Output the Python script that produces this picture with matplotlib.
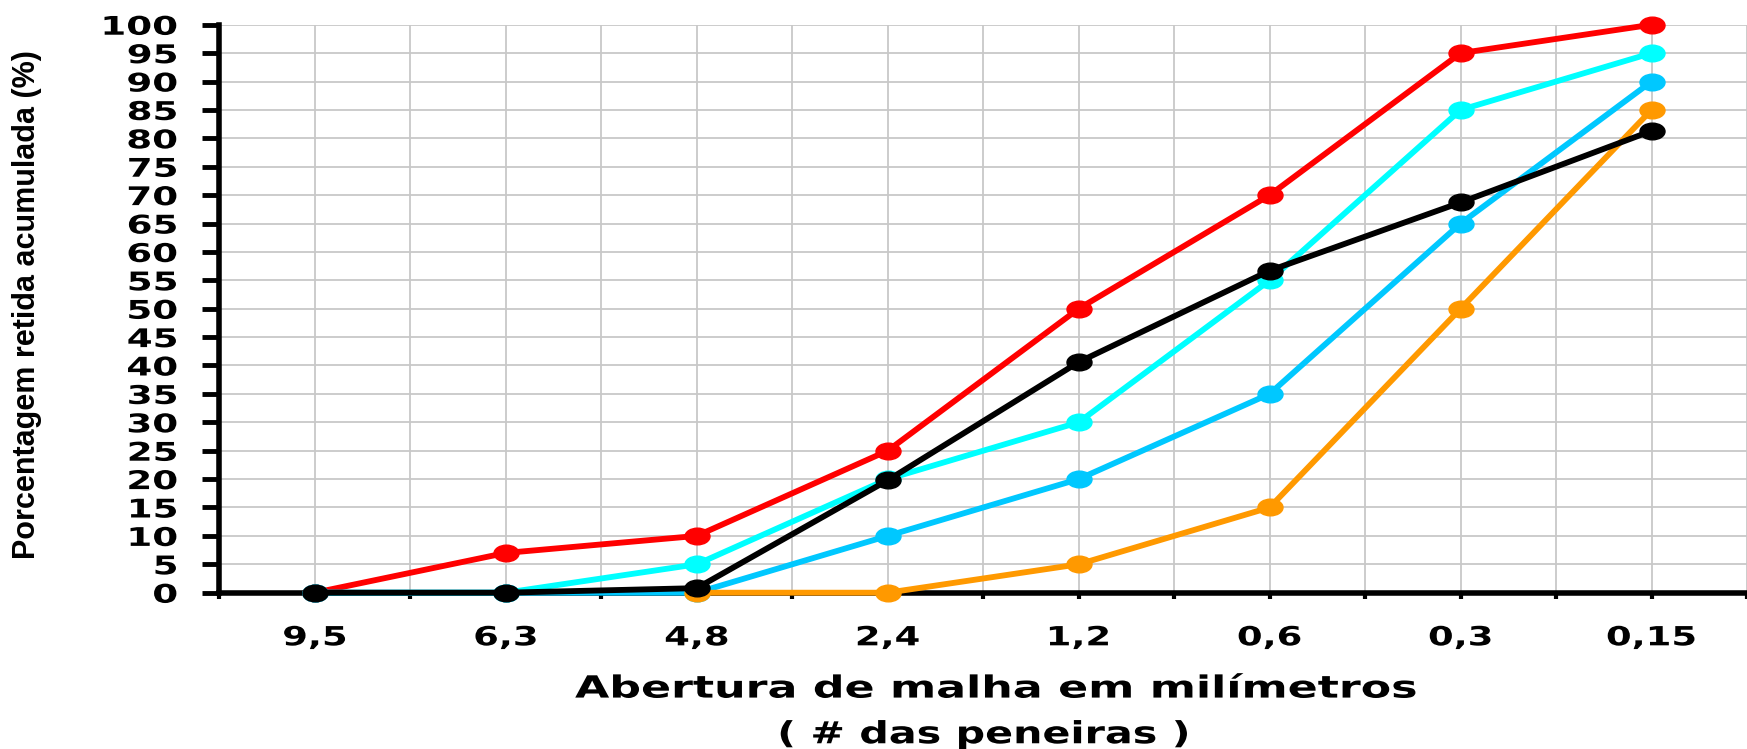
import numpy as np
import matplotlib
matplotlib.use("Agg")
import matplotlib.pyplot as plt
from matplotlib.path import Path
from matplotlib.transforms import Affine2D
from matplotlib.patheffects import AbstractPathEffect

# sieve openings (mm) and cumulative retained percentages
peneiras = ["9,5", "6,3", "4,8", "2,4", "1,2", "0,6", "0,3", "0,15"]
vermelho = [0, 7, 10, 25, 50, 70, 95, 100]
ciano = [0, 0, 5, 20, 30, 55, 85, 95]
azul = [0, 0, 0, 10, 20, 35, 65, 90]
laranja = [np.nan, np.nan, 0, 0, 5, 15, 50, 85]
amostra = [0, 0, 0.8, 19.8, 40.6, 56.7, 68.7, 81.3]
y_ticks = list(range(0, 101, 5))


class Stretch(AbstractPathEffect):
    """widen text horizontally, the original chart was stretched sideways"""

    def __init__(self, sx, anchor="center"):
        super().__init__()
        self.sx = sx
        self.anchor = anchor

    def draw_path(self, renderer, gc, tpath, affine, rgbFace=None):
        ext = tpath.get_extents(affine)
        if self.anchor == "right":
            cx = ext.x1
        else:
            cx = (ext.x0 + ext.x1) / 2
        t = affine + Affine2D().translate(-cx, 0).scale(self.sx, 1).translate(cx, 0)
        renderer.draw_path(gc, tpath, t, rgbFace)


plt.rcParams["font.family"] = ["DejaVu Sans"]

# wide ellipse marker
elipse = Path.unit_circle().transformed(Affine2D().scale(1.5, 1))

fig = plt.figure(figsize=(17.47, 7.49), dpi=100)
ax = fig.add_axes([0.1256, 0.2087, 0.8744, 0.7583])

x = np.arange(len(peneiras))
series = [
    (vermelho, "#ff0000"),
    (ciano, "#00ffff"),
    (azul, "#00c8ff"),
    (laranja, "#ff9900"),
    (amostra, "#000000"),
]
for vals, cor in series:
    ax.plot(x, vals, color=cor, lw=4.2, marker=elipse, ms=18,
            clip_on=False, zorder=3)

ax.set_xlim(-0.5, 7.5)
ax.set_ylim(0, 100)
ax.set_yticks(y_ticks)
ax.set_xticks(x)
ax.set_xticks(np.arange(-0.5, 7.6, 0.5), minor=True)
ax.set_xticklabels(peneiras)

ax.tick_params(axis="y", direction="out", length=12, width=3.5, pad=18, labelsize=18.5)
ax.tick_params(axis="x", which="both", direction="out", length=4.5, width=3, pad=19,
               labelsize=19)
for lab in ax.get_yticklabels():
    lab.set_fontweight("bold")
    lab.set_path_effects([Stretch(1.45, "right")])
for lab in ax.get_xticklabels():
    lab.set_fontweight("bold")
    lab.set_path_effects([Stretch(1.4)])

ax.grid(True, which="major", axis="y", color="#c8c8c8", lw=1.3)
ax.grid(True, which="both", axis="x", color="#c8c8c8", lw=1.3)
ax.set_axisbelow(True)

for s in ["top", "right"]:
    ax.spines[s].set_visible(False)
ax.spines["left"].set_linewidth(4)
ax.spines["bottom"].set_linewidth(4)

fig.text(0.5696, 0.080, "Abertura de malha em milímetros", ha="center", va="center",
         fontsize=22, fontweight="bold", path_effects=[Stretch(1.45)])
fig.text(0.563, 0.019, "( # das peneiras )", ha="center", va="center",
         fontsize=22, fontweight="bold", path_effects=[Stretch(1.35)])
fig.text(0.0152, 0.594, "Porcentagem retida acumulada (%)", rotation=90,
         ha="center", va="center", fontsize=22, fontweight="bold",
         family=["Liberation Sans", "DejaVu Sans"])

fig.savefig("out.png", dpi=100)
